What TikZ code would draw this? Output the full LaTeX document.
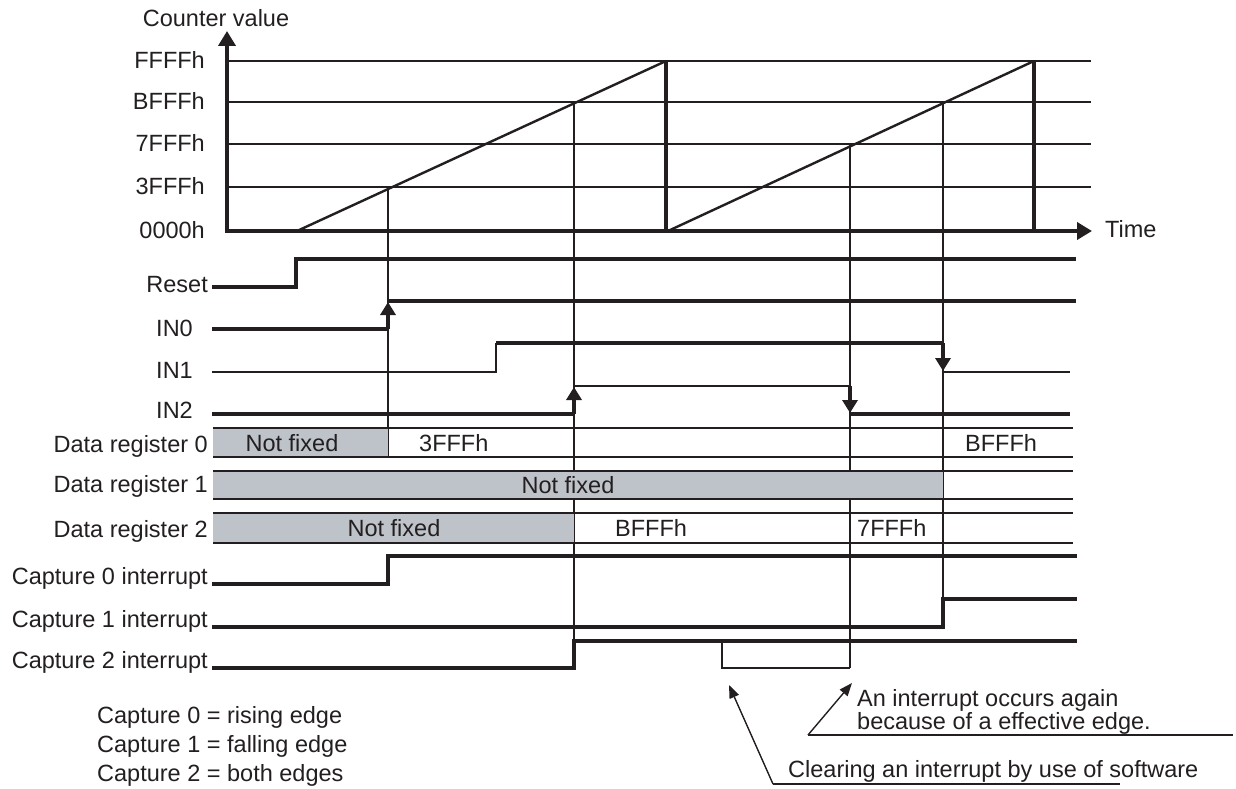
\documentclass[tikz,border=0pt]{standalone}
\usepackage{fontspec}
\setmainfont{Liberation Sans}
\usepackage{tikz}
\usetikzlibrary{arrows.meta}
\definecolor{ink}{HTML}{231F20}
\definecolor{unfixed}{RGB}{190,195,202}

\begin{document}
\begin{tikzpicture}[x=1pt, y=-1pt,
  every node/.style={font=\fontsize{23.5}{28}\selectfont, text=ink, inner sep=0pt},
  axisline/.style={ink, line width=4.5pt},
  gridline/.style={ink, line width=1.3pt},
  ramp/.style={ink, line width=2.4pt},
  drop/.style={ink, line width=3.6pt},
  sighi/.style={ink, line width=3.4pt},
  siglo/.style={ink, line width=1.5pt},
  guide/.style={ink, line width=1.3pt},
  rowline/.style={ink, line width=1.5pt},
  edgetip/.style={-{Triangle[length=13pt,width=15pt]}},
  callout/.style={ink, line width=1.4pt, -{Triangle[length=13pt,width=10pt]}}]
\useasboundingbox (0,0) rectangle (1236,789);

% counter value
\foreach \y in {61,102,144,187}
  \draw[gridline] (229,\y) -- (1091,\y);
\draw[ramp] (297,231) -- (666,61);
\draw[ramp] (668,231) -- (1034,61);
\draw[drop] (666,61) -- (666,231);
\draw[drop] (1034,61) -- (1034,231);
\draw[axisline, -{Triangle[length=15pt,width=17pt]}] (227,233) -- (227,31);
\draw[axisline, -{Triangle[length=15pt,width=17pt]}] (225,231) -- (1092,231);
\node[anchor=base] (cv) at (216,27) {Counter value};
\foreach \v/\y in {FFFFh/61, BFFFh/102, 7FFFh/144, 3FFFh/187, 0000h/231}
  \node[anchor=base east] (v\v) at (205,\y+7.5) {\v};
\node[anchor=base west] (time) at (1105,237) {Time};

% guides from the capture points
\draw[guide] (388,187) -- (388,457);
\draw[guide] (574,102) -- (574,668);
\draw[guide] (850,144) -- (850,668);
\draw[guide] (943,102) -- (943,599);

% inputs
\draw[sighi] (212,287) -- (296,287) -- (296,259) -- (1076,259);
\draw[sighi] (212,329) -- (388,329);
\draw[sighi, edgetip] (388,329) -- (388,302);
\draw[sighi] (388,301) -- (1076,301);
\draw[siglo] (212,372) -- (496,372) -- (496,343);
\draw[sighi] (496,343) -- (943,343);
\draw[sighi, edgetip] (943,343) -- (943,371);
\draw[siglo] (943,372) -- (1070,372);
\draw[sighi] (212,414) -- (574,414);
\draw[sighi, edgetip] (574,414) -- (574,387);
\draw[siglo] (574,386) -- (850,386);
\draw[sighi, edgetip] (850,386) -- (850,413);
\draw[sighi] (850,414) -- (1070,414);

% data registers
\fill[unfixed] (213,428) rectangle (388,457);
\fill[unfixed] (213,471) rectangle (943,499);
\fill[unfixed] (213,513) rectangle (574,543);
\foreach \y in {428,457,471,499,513,543}
  \draw[rowline] (213,\y) -- (1073,\y);
\node[anchor=base] (dr0nf) at (292,451) {Not fixed};
\node[anchor=base west] (dr0a) at (419,451) {3FFFh};
\node[anchor=base west] (dr0b) at (965,451) {BFFFh};
\node[anchor=base] (dr1nf) at (568,493) {Not fixed};
\node[anchor=base] (dr2nf) at (394,536) {Not fixed};
\node[anchor=base west] (dr2a) at (615,536) {BFFFh};
\node[anchor=base west] (dr2b) at (857,536) {7FFFh};

% capture interrupts
\draw[sighi] (212,584) -- (388,584) -- (388,556) -- (1077,556);
\draw[sighi] (212,627) -- (943,627) -- (943,599) -- (1077,599);
\draw[sighi] (212,668) -- (574,668) -- (574,641) -- (1077,641);
\draw[siglo] (722,641) -- (722,668) -- (850,668);

% signal names
\node[anchor=base east] (lreset) at (208,292) {Reset};
\node[anchor=base east] (lin0) at (193,336) {IN0};
\node[anchor=base east] (lin1) at (193,378) {IN1};
\node[anchor=base east] (lin2) at (193,418) {IN2};
\node[anchor=base east] (ldr0) at (208,452) {Data register 0};
\node[anchor=base east] (ldr1) at (208,492) {Data register 1};
\node[anchor=base east] (ldr2) at (208,537) {Data register 2};
\node[anchor=base east] (lcap0) at (208,584) {Capture 0 interrupt};
\node[anchor=base east] (lcap1) at (208,627) {Capture 1 interrupt};
\node[anchor=base east] (lcap2) at (208,668) {Capture 2 interrupt};

% legend
\node[anchor=base west] (leg0) at (97,723) {Capture 0 = rising edge};
\node[anchor=base west] (leg1) at (97,752) {Capture 1 = falling edge};
\node[anchor=base west] (leg2) at (97,781) {Capture 2 = both edges};

% notes
\coordinate (againtail) at (808,735);
\coordinate (againtip) at (852,683);
\coordinate (againend) at (1233,735);
\draw[callout] (againtail) -- (againtip);
\draw[rowline] (againtail) -- (againend);
\node[anchor=base west] (again1) at (857,706) {An interrupt occurs again};
\node[anchor=base west] (again2) at (857,729) {because of a effective edge.};
\coordinate (cleartail) at (773,784);
\coordinate (cleartip) at (729,685);
\coordinate (clearend) at (1120,784);
\draw[callout] (cleartail) -- (cleartip);
\draw[rowline] (cleartail) -- (clearend);
\node[anchor=base west] (clear) at (788,777) {Clearing an interrupt by use of software};
\end{tikzpicture}
\end{document}
